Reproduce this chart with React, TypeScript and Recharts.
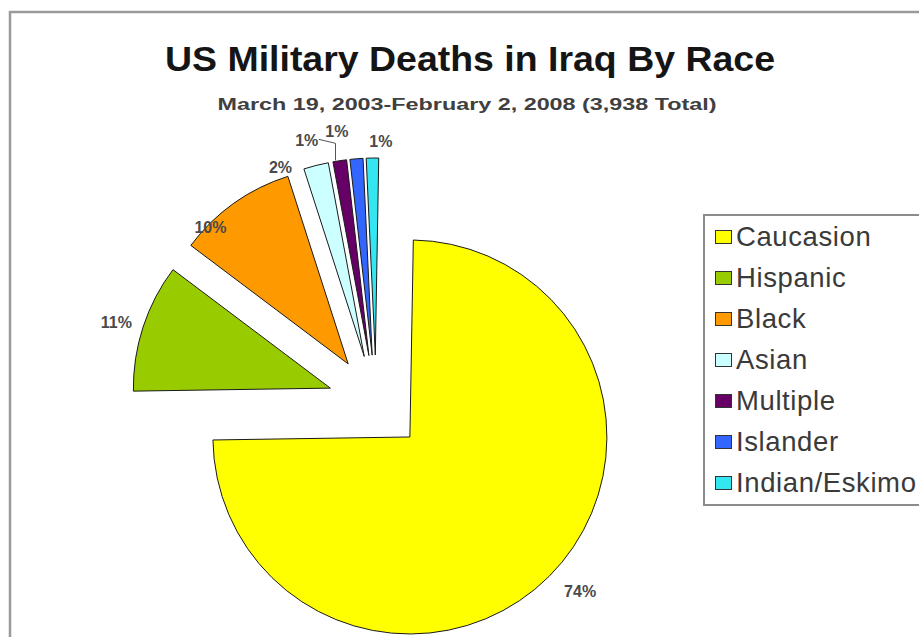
import React from 'react';
import { PieChart, Pie, Cell, Legend } from 'recharts';

const CATEGORIES = ['Caucasion', 'Hispanic', 'Black', 'Asian', 'Multiple', 'Islander', 'Indian/Eskimo'];
const DEATHS = [2933, 414, 385, 80, 44, 42, 40];
const COLORS = ['#FFFF00', '#99CC00', '#FF9900', '#CCFFFF', '#660066', '#3366FF', '#33E6F0'];

const TITLE = 'US Military Deaths in Iraq By Race';
const SUBTITLE = 'March 19, 2003-February 2, 2008 (3,938 Total)';

const data = CATEGORIES.map((name, i) => ({ name, value: DEATHS[i] }));

const W = 919;
const H = 637;
const CX = 376;
const CY = 403;
const R = 197;
const EXPLODE = 48;
const START = 89;
const END = START - 360;
const FONT = '"Liberation Sans", Arial, Helvetica, sans-serif';

// label placement tweaks (style only)
const LABEL_R_EXTRA = [33, 27, -3, 10, 27, 29, 17];
const LABEL_ANGLE_ADJ = [2.8, 0.9, 9.8, 9.7, 7.6, 4.4, -2.3];

const RAD = Math.PI / 180;
const TOTAL = DEATHS.reduce((a, b) => a + b, 0);

function midAngleOf(i: number) {
  let cum = 0;
  for (let j = 0; j < i; j++) cum += DEATHS[j];
  return START + ((END - START) * (cum + DEATHS[i] / 2)) / TOTAL;
}

function polar(cx: number, cy: number, r: number, a: number) {
  return { x: cx + r * Math.cos(-a * RAD), y: cy + r * Math.sin(-a * RAD) };
}

const makeLabel = (i: number) => (props: any) => {
  if (props.index !== i) return null;
  const { cx, cy, midAngle, outerRadius, percent } = props;
  const p = polar(cx, cy, outerRadius + LABEL_R_EXTRA[i], midAngle + LABEL_ANGLE_ADJ[i]);
  const txt = `${Math.round(percent * 100)}%`;
  let leader: React.ReactNode = null;
  if (i === 4) {
    const e = polar(cx, cy, outerRadius + 1, midAngle + 1.2);
    leader = (
      <polyline
        points={`${p.x + 12},${p.y - 1} ${e.x},${p.y + 3} ${e.x},${e.y}`}
        fill="none"
        stroke="#555"
        strokeWidth={1}
      />
    );
  }
  return (
    <g key={`lbl-${i}`}>
      {leader}
      <text
        x={p.x}
        y={p.y}
        textAnchor="middle"
        dominantBaseline="central"
        fontFamily={FONT}
        fontSize={16}
        fontWeight="bold"
        fill="#4a4a4a"
      >
        {txt}
      </text>
    </g>
  );
};

const renderLegend = () => (
  <div
    style={{
      width: 240,
      height: 288,
      border: '2px solid #8c8c8c',
      borderRight: 'none',
      background: '#fff',
      fontFamily: FONT,
    }}
  >
    {CATEGORIES.map((c, i) => (
      <div key={c} style={{ height: 41, display: 'flex', alignItems: 'center' }}>
        <div
          style={{
            marginLeft: 10,
            width: 15,
            height: 12,
            background: COLORS[i],
            border: '1px solid #333',
          }}
        />
        <span style={{ marginLeft: 4, fontSize: 27.5, color: '#3a3a3a', letterSpacing: 0.6, lineHeight: '41px' }}>
          {c}
        </span>
      </div>
    ))}
  </div>
);

export default function App() {
  return (
    <div style={{ position: 'absolute', left: 0, top: 0, width: W, height: H, overflow: 'hidden', background: '#fff' }}>
      <svg width={W} height={H} style={{ position: 'absolute', left: 0, top: 0 }}>
        <rect x={0} y={0} width={W} height={H} fill="#fff" />
        <path d={`M10,${H} L10,12 L${W},12`} stroke="#9a9a9a" strokeWidth={2.5} fill="none" />
        <text
          x={470}
          y={71}
          textAnchor="middle"
          fontFamily={FONT}
          fontSize={35}
          fontWeight="bold"
          fill="#151515"
          textLength={610}
          lengthAdjust="spacingAndGlyphs"
        >
          {TITLE}
        </text>
        <text
          x={467}
          y={110}
          textAnchor="middle"
          fontFamily={FONT}
          fontSize={16}
          fontWeight="bold"
          fill="#404040"
          textLength={499}
          lengthAdjust="spacingAndGlyphs"
        >
          {SUBTITLE}
        </text>
      </svg>
      <div style={{ position: 'absolute', left: 0, top: 0 }}>
        <PieChart width={W} height={H} margin={{ top: 0, right: 0, bottom: 0, left: 0 }}>
          {CATEGORIES.map((_, i) => {
            const mid = midAngleOf(i);
            const off = polar(0, 0, EXPLODE, mid);
            return (
              <Pie
                key={`pie-${i}`}
                data={data}
                dataKey="value"
                nameKey="name"
                cx={CX + off.x}
                cy={CY + off.y}
                outerRadius={R}
                innerRadius={0}
                startAngle={START}
                endAngle={END}
                isAnimationActive={false}
                label={makeLabel(i)}
                labelLine={false}
                legendType="none"
              >
                {data.map((d, j) => (
                  <Cell
                    key={d.name}
                    fill={j === i ? COLORS[j] : 'none'}
                    stroke={j === i ? '#1a1a1a' : 'none'}
                    strokeWidth={1}
                  />
                ))}
              </Pie>
            );
          })}
          <Legend
            layout="vertical"
            align="right"
            verticalAlign="middle"
            content={renderLegend}
            wrapperStyle={{ position: 'absolute', left: 703, top: 214, width: 240, height: 292, right: 'auto', bottom: 'auto' }}
          />
        </PieChart>
      </div>
    </div>
  );
}
